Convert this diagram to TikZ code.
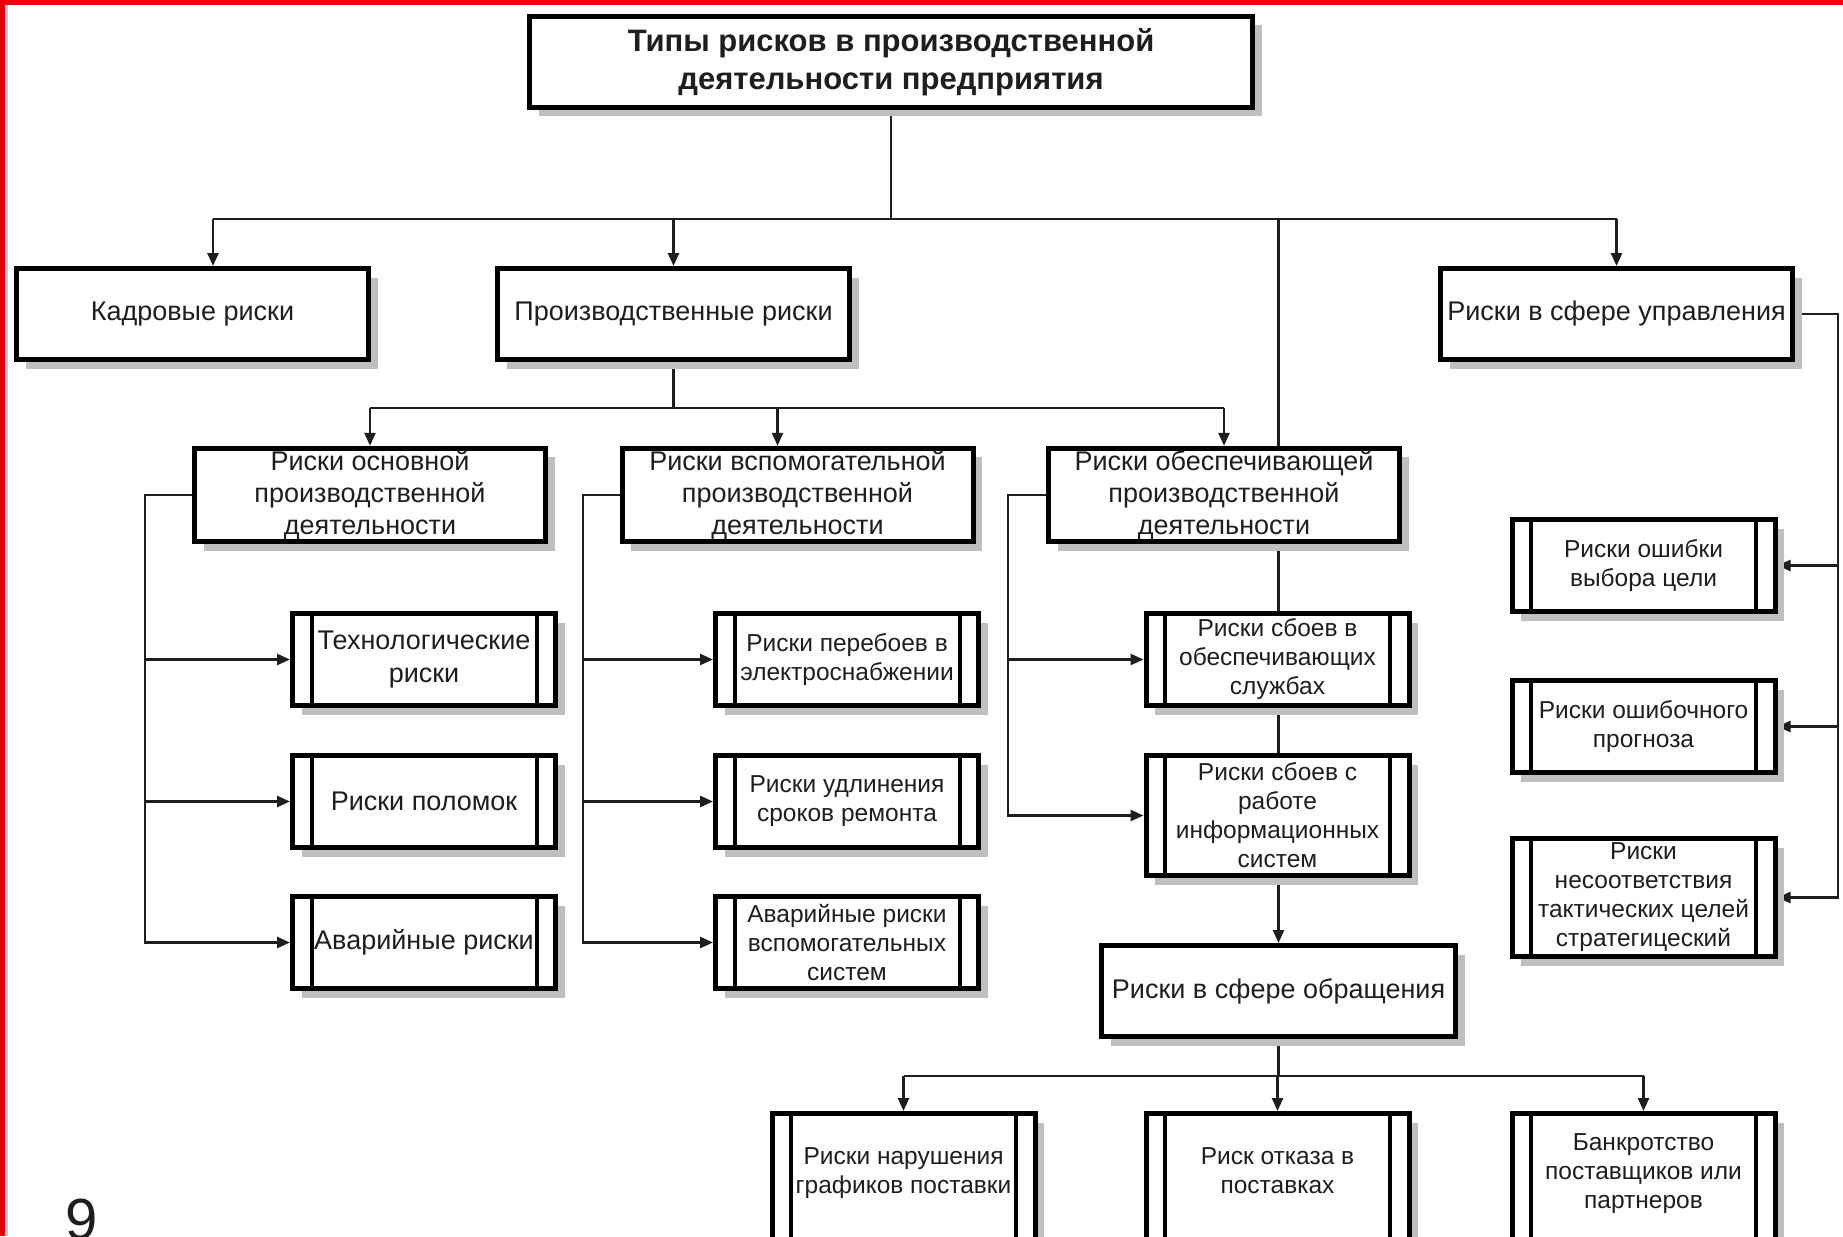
\documentclass[tikz,border=0pt]{standalone}
\usepackage{fontspec}
\setmainfont{Liberation Sans}
\usetikzlibrary{arrows.meta,shadows,backgrounds}

\definecolor{ink}{HTML}{1E1E1E}
\definecolor{frame}{HTML}{E8000B}
\definecolor{rule}{HTML}{A9CCEB}

\tikzset{
  box/.style={draw=black, line width=5pt, fill=white, inner sep=2pt, align=center, text=ink,
    drop shadow={shadow xshift=9pt, shadow yshift=-9pt, fill=black!25, opacity=1}},
  headbox/.style={box, minimum width=723pt, minimum height=91pt,
    font=\bfseries\fontsize{31pt}{38pt}\selectfont},
  mainbox/.style={box, minimum width=352pt, minimum height=91pt,
    font=\fontsize{27pt}{32pt}\selectfont},
  procbox/.style={box, minimum width=263pt, minimum height=92pt,
    font=\fontsize{24.5pt}{29pt}\selectfont,
    path picture={
      \draw[line width=4pt] ([xshift=19pt]path picture bounding box.north west)
        -- ([xshift=19pt]path picture bounding box.south west);
      \draw[line width=4pt] ([xshift=-19pt]path picture bounding box.north east)
        -- ([xshift=-19pt]path picture bounding box.south east);}},
  bigtext/.style={font=\fontsize{27pt}{33pt}\selectfont},
  link/.style={draw=ink, line width=2.5pt},
  arr/.style={link, -{Triangle[length=13pt,width=11pt]}},
}

\begin{document}
\begin{tikzpicture}[x=1pt,y=-1pt]
\useasboundingbox (0,0) rectangle (1843,1236);

% top level
\node[headbox] (title) at (891,62) {Типы рисков в производственной\\деятельности предприятия};

% first level
\node[mainbox] (kadr)   at (192.5,314)  {Кадровые риски};
\node[mainbox] (proizv) at (673.5,314)  {Производственные риски};
\node[mainbox] (upr)    at (1616.5,314) {Риски в сфере управления};

% second level
\node[mainbox, minimum width=351pt] (osn)   at (370,495)    {Риски основной\\производственной\\деятельности};
\node[mainbox, minimum width=351pt] (vsp)   at (797.5,495)  {Риски вспомогательной\\производственной\\деятельности};
\node[mainbox, minimum width=351pt] (obesp) at (1224,495)   {Риски обеспечивающей\\производственной\\деятельности};

% main activity
\node[procbox, bigtext] (tech)  at (424,659.5) {Технологические\\риски};
\node[procbox, bigtext] (polom) at (424,801.5) {Риски поломок};
\node[procbox, bigtext] (avar)  at (424,942.5) {Аварийные риски};

% auxiliary activity
\node[procbox] (pereb) at (847,659.5) {Риски перебоев в\\электроснабжении};
\node[procbox] (udlin) at (847,801.5) {Риски удлинения\\сроков ремонта};
\node[procbox] (avvsp) at (847,942.5) {Аварийные риски\\вспомогательных\\систем};

% supporting activity
\node[procbox] (sboiA) at (1277.5,659.5) {Риски сбоев в\\обеспечивающих\\службах};
\node[procbox, minimum height=120pt] (sboiB) at (1277.5,815.5) {Риски сбоев с\\работе\\информационных\\систем};

% circulation (lower boxes run past the bottom edge; the text sits in the visible part)
\node[mainbox, minimum width=354pt] (obr) at (1278.5,991) {Риски в сфере обращения};
\node[procbox, minimum height=133pt] (nar)  at (903.5,1180)  {Риски нарушения\\графиков поставки\\[-11pt]\mbox{}};
\node[procbox, minimum height=133pt] (otk)  at (1277.5,1180) {Риск отказа в\\поставках\\[-11pt]\mbox{}};
\node[procbox, minimum height=133pt] (bank) at (1643.5,1180) {Банкротство\\поставщиков или\\партнеров\\[-11pt]\mbox{}};

% management
\node[procbox] (errA) at (1643.5,565.5) {Риски ошибки\\выбора цели};
\node[procbox] (errB) at (1643.5,726.5) {Риски ошибочного\\прогноза};
\node[procbox, minimum height=118pt] (errC) at (1643.5,897.5) {Риски\\несоответствия\\тактических целей\\стратегицеский};

% page number
\node[font=\fontsize{58pt}{58pt}\selectfont, text=ink, anchor=base, inner sep=0pt] (pnum) at (82,1239) {9};

% bus positions
\coordinate (busA) at (213,219);
\coordinate (busB) at (0,408);
\coordinate (busC) at (0,1076);
\coordinate (colA) at (145,0);
\coordinate (colB) at (583,0);
\coordinate (colC) at (1008,0);
\coordinate (colD) at (1838,0);

\begin{scope}[on background layer]
  \fill[white] (0,0) rectangle (1843,1236);
  % first level
  \draw[link] (title.south) -- (title.south |- busA);
  \draw[link] (busA) -- (upr.north |- busA);
  \draw[arr] (busA) -- (busA |- kadr.north);
  \draw[arr] (proizv.north |- busA) -- (proizv.north);
  \draw[arr] (upr.north |- busA) -- (upr.north);
  \draw[arr] (obr.north |- busA) -- (obr.north);
  % second level
  \draw[link] (proizv.south) -- (proizv.south |- busB);
  \draw[link] (osn.north |- busB) -- (obesp.north |- busB);
  \draw[arr] (osn.north |- busB) -- (osn.north);
  \draw[arr] ([xshift=-20pt]vsp.north |- busB) -- ([xshift=-20pt]vsp.north);
  \draw[arr] (obesp.north |- busB) -- (obesp.north);
  % branches
  \foreach \c in {tech,polom,avar}
    \draw[arr] (osn.west) -- (osn.west -| colA) |- (\c.west);
  \foreach \c in {pereb,udlin,avvsp}
    \draw[arr] (vsp.west) -- (vsp.west -| colB) |- (\c.west);
  \foreach \c in {sboiA,sboiB}
    \draw[arr] (obesp.west) -- (obesp.west -| colC) |- (\c.west);
  \foreach \c in {errA,errB,errC}
    \draw[arr] (upr.east) -- (upr.east -| colD) |- (\c.east);
  % circulation
  \draw[link] (obr.south) -- (obr.south |- busC);
  \draw[link] (nar.north |- busC) -- (bank.north |- busC);
  \foreach \c in {nar,otk,bank}
    \draw[arr] (\c.north |- busC) -- (\c.north);
\end{scope}

% slide frame
\fill[rule] (5,5) rectangle (8,1236);
\fill[frame] (0,0) rectangle (1843,5);
\fill[frame] (0,0) rectangle (5,1236);
\end{tikzpicture}
\end{document}
